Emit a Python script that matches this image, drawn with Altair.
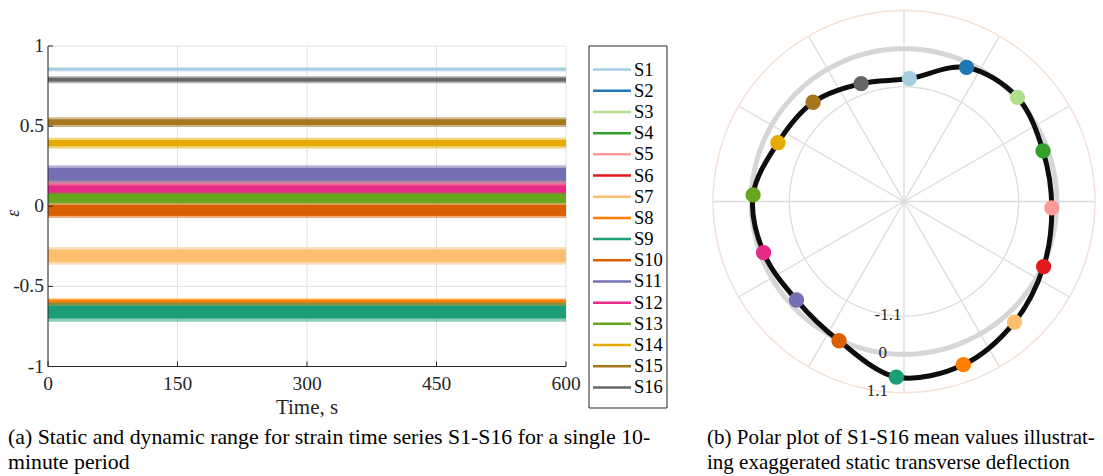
import altair as alt
import pandas as pd

# ---- strain channels S1-S16 ----
names = ["S1", "S2", "S3", "S4", "S5", "S6", "S7", "S8",
         "S9", "S10", "S11", "S12", "S13", "S14", "S15", "S16"]
colors = ["#a6cee3", "#1f78b4", "#b2df8a", "#33a02c", "#fb9a99", "#e31a1c",
          "#fdbf6f", "#ff7f00", "#1b9e77", "#d95f02", "#7570b3", "#e7298a",
          "#66a61e", "#e6ab02", "#a6761d", "#666666"]
# mean strain of each channel over the 10-minute record
means = [0.855, 0.14, -0.035, 0.14, 0.14, -0.035, -0.31, -0.60,
         -0.66, -0.025, 0.20, 0.097, 0.05, 0.394, 0.525, 0.79]
# half-width of the dense part of each record and of its peaks
core_half = [0.008, 0.02, 0.02, 0.02, 0.018, 0.02, 0.04, 0.016,
             0.04, 0.035, 0.04, 0.033, 0.028, 0.02, 0.018, 0.012]
peak_half = [0.014, 0.03, 0.025, 0.03, 0.026, 0.025, 0.055, 0.026,
             0.06, 0.048, 0.056, 0.045, 0.036, 0.034, 0.03, 0.022]
# circumferential position of each gauge (degrees, counter-clockwise from +x)
gauge_angle = [87.5, 65, 42.5, 20, -2.5, -25, -47.5, -70,
               -92.5, -115, -137.5, -160, 177.5, 155, 132.5, 110]

# ---- axes ----
time_start, time_end = 0, 600
x_ticks = [0, 150, 300, 450, 600]
x_tick_labels = ["0", "150", "300", "450", "600"]
y_lim = [-1, 1]
y_ticks = [-1, -0.5, 0, 0.5, 1]
y_tick_labels = ["-1", "-0.5", "0", "0.5", "1"]

r_min, r_max = -4.4, 1.1
r_rings = [-1.1, 0, 1.1]
r_ring_labels = ["-1.1", "0", "1.1"]
r_label_angle = -98
spoke_angles = [0, 30, 60, 90, 120, 150, 180, 210, 240, 270, 300, 330]

FONT = "Liberation Serif"
INK = "#262626"
GRID = "#e2e2e2"

tx = alt.Scale(domain=[time_start, time_end], range=[48, 566], nice=False, zero=False)
ty = alt.Scale(domain=y_lim, range=[366.5, 46], nice=False, zero=False)
color_scale = alt.Scale(domain=names, range=colors)

span = r_max - r_min
px_scale = alt.Scale(domain=[-span, span], range=[713, 1095], nice=False, zero=False)
py_scale = alt.Scale(domain=[-span, span], range=[392.5, 10.5], nice=False, zero=False)

# ---------------- (a) strain time series ----------------
band_rows = []
for n, m, c, p in zip(names, means, core_half, peak_half):
    band_rows.append({"name": n, "kind": "peak", "lo": m - p, "hi": m + p,
                      "t0": time_start, "t1": time_end})
    band_rows.append({"name": n, "kind": "core", "lo": m - c, "hi": m + c,
                      "t0": time_start, "t1": time_end})
bands_df = pd.DataFrame(band_rows)

xgrid_df = pd.DataFrame({"t": x_ticks, "lo": y_lim[0], "hi": y_lim[1], "label": x_tick_labels})
ygrid_df = pd.DataFrame({"v": y_ticks, "lo": time_start, "hi": time_end, "label": y_tick_labels})

vgrid = alt.Chart(xgrid_df).mark_rule(color=GRID, strokeWidth=1).encode(
    x=alt.X("t:Q", scale=tx, axis=None),
    y=alt.Y("lo:Q", scale=ty, axis=None), y2="hi:Q")
hgrid = alt.Chart(ygrid_df).mark_rule(color=GRID, strokeWidth=1).encode(
    y=alt.Y("v:Q", scale=ty, axis=None),
    x=alt.X("lo:Q", scale=tx, axis=None), x2="hi:Q")

bands = alt.Chart(bands_df).mark_rect().encode(
    x=alt.X("t0:Q", scale=tx, axis=None), x2="t1:Q",
    y=alt.Y("lo:Q", scale=ty, axis=None), y2="hi:Q",
    color=alt.Color("name:N", scale=color_scale, legend=None),
    opacity=alt.Opacity("kind:N", scale=alt.Scale(domain=["peak", "core"], range=[0.5, 1.0]),
                        legend=None),
)

left_axis = alt.Chart(pd.DataFrame({"x": [time_start], "lo": [y_lim[0]], "hi": [y_lim[1]]})).mark_rule(
    color=INK, strokeWidth=1).encode(
    x=alt.X("x:Q", scale=tx, axis=None), y=alt.Y("lo:Q", scale=ty, axis=None), y2="hi:Q")
bottom_axis = alt.Chart(pd.DataFrame({"y": [y_lim[0]], "lo": [time_start], "hi": [time_end]})).mark_rule(
    color=INK, strokeWidth=1).encode(
    y=alt.Y("y:Q", scale=ty, axis=None), x=alt.X("lo:Q", scale=tx, axis=None), x2="hi:Q")

xticks_m = alt.Chart(xgrid_df).mark_rule(color=INK, strokeWidth=1, y2Offset=-5).encode(
    x=alt.X("t:Q", scale=tx, axis=None), y=alt.Y("lo:Q", scale=ty, axis=None), y2="lo:Q")
yticks_m = alt.Chart(ygrid_df).mark_rule(color=INK, strokeWidth=1, x2Offset=5).encode(
    y=alt.Y("v:Q", scale=ty, axis=None), x=alt.X("lo:Q", scale=tx, axis=None), x2="lo:Q")

xlabels = alt.Chart(xgrid_df).mark_text(
    font=FONT, fontSize=19.5, color=INK, baseline="middle", align="center", dy=17).encode(
    x=alt.X("t:Q", scale=tx, axis=None), y=alt.Y("lo:Q", scale=ty, axis=None), text="label:N")
ylabels = alt.Chart(ygrid_df).mark_text(
    font=FONT, fontSize=19.5, color=INK, baseline="middle", align="right", dx=-4).encode(
    y=alt.Y("v:Q", scale=ty, axis=None), x=alt.X("lo:Q", scale=tx, axis=None), text="label:N")

xtitle = alt.Chart(pd.DataFrame({"label": ["Time, s"], "x": [(time_start + time_end) / 2],
                                 "y": [y_lim[0]]})).mark_text(
    font=FONT, fontSize=21, color=INK, baseline="middle", align="center", dy=41).encode(
    x=alt.X("x:Q", scale=tx, axis=None), y=alt.Y("y:Q", scale=ty, axis=None), text="label:N")
ytitle = alt.Chart(pd.DataFrame({"label": ["ε"], "x": [time_start], "y": [0.0]})).mark_text(
    font=FONT, fontSize=18, fontStyle="italic", color=INK, baseline="middle", align="center",
    angle=270, dy=-34, dx=-7).encode(
    x=alt.X("x:Q", scale=tx, axis=None), y=alt.Y("y:Q", scale=ty, axis=None), text="label:N")

panel_a = alt.layer(vgrid, hgrid, bands, left_axis, bottom_axis, xticks_m, yticks_m,
                    xlabels, ylabels, xtitle, ytitle)

# ---------------- legend ----------------
legend_df = pd.DataFrame({"name": names})
leg_y = alt.Scale(type="point", domain=names, range=[59, 398])
legend_box = alt.Chart(pd.DataFrame({"k": [0]})).mark_rect(
    fill="white", stroke=INK, strokeWidth=1).encode(
    x=alt.value(589), x2=alt.value(667), y=alt.value(46), y2=alt.value(408))
legend_lines = alt.Chart(legend_df).mark_rule(strokeWidth=2.5).encode(
    x=alt.value(593), x2=alt.value(631),
    y=alt.Y("name:N", scale=leg_y, axis=None),
    color=alt.Color("name:N", scale=color_scale, legend=None))
legend_text = alt.Chart(legend_df).mark_text(
    font=FONT, fontSize=18.5, color="black", align="left", baseline="middle").encode(
    x=alt.value(634), y=alt.Y("name:N", scale=leg_y, axis=None), text="name:N")
legend = alt.layer(legend_box, legend_lines, legend_text)

# ---------------- (b) polar plot of mean values ----------------
def to_xy(chart, r_field, a_field):
    return chart.transform_calculate(
        rr=f"datum.{r_field} - ({r_min})"
    ).transform_calculate(
        cx=f"datum.rr * cos(datum.{a_field} * PI / 180)",
        cy=f"datum.rr * sin(datum.{a_field} * PI / 180)",
    )

ring_styles = [("#dcdcdc", 1.3), ("#d6d6d6", 5), ("#f4e1d7", 1.5)]
rings = []
for value, (col, w) in zip(r_rings, ring_styles):
    base = alt.Chart(alt.sequence(0, 362, 2, as_="deg")).transform_calculate(
        rv=f"{value}")
    rings.append(to_xy(base, "rv", "deg").mark_line(color=col, strokeWidth=w).encode(
        x=alt.X("cx:Q", scale=px_scale, axis=None),
        y=alt.Y("cy:Q", scale=py_scale, axis=None),
        order="deg:Q"))

spokes = alt.Chart(pd.DataFrame({"a": spoke_angles})).transform_calculate(
    x0="0", y0="0",
    x1=f"{span} * cos(datum.a * PI / 180)",
    y1=f"{span} * sin(datum.a * PI / 180)",
).mark_rule(color="#dcdcdc", strokeWidth=1.3).encode(
    x=alt.X("x0:Q", scale=px_scale, axis=None), y=alt.Y("y0:Q", scale=py_scale, axis=None),
    x2="x1:Q", y2="y1:Q")

ring_label_df = pd.DataFrame({"r": r_rings, "label": r_ring_labels, "a": r_label_angle})
ring_labels = to_xy(alt.Chart(ring_label_df), "r", "a").mark_text(
    font=FONT, fontSize=17, color=INK, align="center", baseline="middle").encode(
    x=alt.X("cx:Q", scale=px_scale, axis=None), y=alt.Y("cy:Q", scale=py_scale, axis=None),
    text="label:N")

polar_df = pd.DataFrame({"name": names, "mean": means, "angle": gauge_angle,
                         "idx": list(range(len(names)))})
polar_base = to_xy(
    alt.Chart(polar_df).transform_calculate(defl="-datum.mean"), "defl", "angle")
curve = polar_base.mark_line(interpolate="cardinal-closed", color="#0d0d0d", strokeWidth=5).encode(
    x=alt.X("cx:Q", scale=px_scale, axis=None), y=alt.Y("cy:Q", scale=py_scale, axis=None),
    order="idx:Q")
dots = polar_base.mark_circle(size=235, opacity=1).encode(
    x=alt.X("cx:Q", scale=px_scale, axis=None), y=alt.Y("cy:Q", scale=py_scale, axis=None),
    color=alt.Color("name:N", scale=color_scale, legend=None))

panel_b = alt.layer(spokes, *rings, ring_labels, curve, dots)

# ---------------- captions ----------------
cap_a = alt.Chart(pd.DataFrame({"t": ["(a) Static and dynamic range for strain time series S1-S16 for a single 10-\nminute period"]})).mark_text(
    font=FONT, fontSize=21.8, color="black", align="left", baseline="alphabetic",
    lineBreak="\n", lineHeight=25).encode(
    x=alt.value(8), y=alt.value(444), text="t:N")
cap_b = alt.Chart(pd.DataFrame({"t": ["(b) Polar plot of S1-S16 mean values illustrat-\ning exaggerated static transverse deflection"]})).mark_text(
    font=FONT, fontSize=21, color="black", align="left", baseline="alphabetic",
    lineBreak="\n", lineHeight=25).encode(
    x=alt.value(707), y=alt.value(444), text="t:N")

chart = alt.layer(panel_a, legend, panel_b, cap_a, cap_b).resolve_scale(
    x="independent", y="independent"
).properties(
    width=1103, height=476, autosize="none", padding=0, background="white"
).configure_view(stroke=None)

chart.save("out.html", embed_options={"renderer": "svg", "actions": False})
